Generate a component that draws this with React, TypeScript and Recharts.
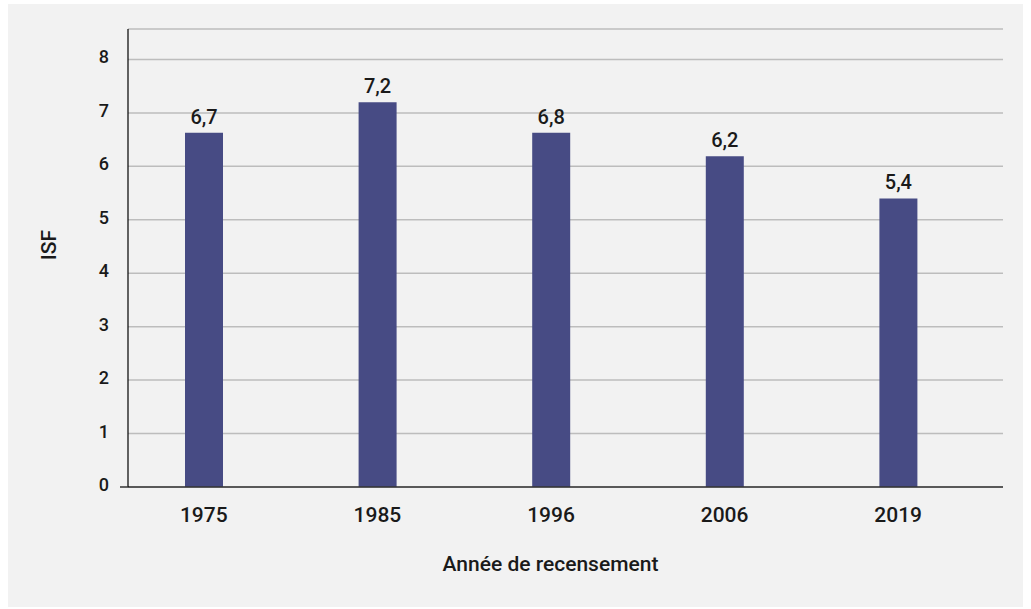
import React from 'react';
import { BarChart, Bar, XAxis, YAxis, CartesianGrid, LabelList, Label } from 'recharts';

const years = ['1975', '1985', '1996', '2006', '2019'];
const isfBarValues = [6.63, 7.2, 6.63, 6.19, 5.4];
const isfLabels = ['6,7', '7,2', '6,8', '6,2', '5,4'];
const yTicks = [0, 1, 2, 3, 4, 5, 6, 7, 8];
const yMax = 8.57;

const data = years.map((y, i) => ({ year: y, value: isfBarValues[i], label: isfLabels[i] }));

const FONT = 'Roboto, "Noto Sans", sans-serif';
const TEXT = '#1a1a1a';
const BAR = '#474b84';

const Y_MARGIN = 19;

const YTick = (props: any) => {
  const { x, y, payload } = props;
  return (
    <g>
      <text x={x} y={y} dy={4} textAnchor="end" fontFamily={FONT} fontSize={18} fontWeight={500} fill={TEXT}>
        {payload.value}
      </text>
      {payload.value === 0 && (
        <line x1={x + Y_MARGIN - 8} x2={x + Y_MARGIN} y1={y} y2={y} stroke="#333" strokeWidth={1.5} />
      )}
    </g>
  );
};

const XTitle = (props: any) => {
  const vb = props.viewBox || { x: 0, y: 0, width: 0, height: 0 };
  return (
    <text
      x={vb.x + vb.width / 2 - 15}
      y={vb.y + vb.height - 38}
      textAnchor="middle"
      fontFamily={FONT}
      fontSize={21}
      fontWeight={500}
      fill={TEXT}
    >
      Année de recensement
    </text>
  );
};

const YTitle = (props: any) => {
  const vb = props.viewBox || { x: 0, y: 0, width: 0, height: 0 };
  const cx = vb.x + 56;
  const cy = vb.y + vb.height / 2 - 13;
  return (
    <text
      x={cx}
      y={cy}
      transform={`rotate(-90 ${cx} ${cy})`}
      textAnchor="middle"
      fontFamily={FONT}
      fontSize={21}
      fontWeight={500}
      fill={TEXT}
    >
      ISF
    </text>
  );
};

export default function App() {
  return (
    <div style={{ position: 'absolute', left: 0, top: 0, width: 1031, height: 609, background: '#fff', overflow: 'hidden' }}>
      <div style={{ position: 'absolute', left: 8, top: 4, width: 1015, height: 603, background: '#f2f2f2' }} />
      <div style={{ position: 'absolute', left: 0, top: 0 }}>
        <BarChart width={1031} height={609} data={data} margin={{ top: 29, right: 28, left: 0, bottom: 0 }}>
          <CartesianGrid vertical={false} stroke="#bdbdbd" strokeWidth={1.5} />
          <XAxis
            dataKey="year"
            height={122}
            padding={{ left: -11, right: 18 }}
            tickLine={false}
            tickSize={0}
            tickMargin={20}
            axisLine={{ stroke: '#333', strokeWidth: 1.5 }}
            tick={{ fontFamily: FONT, fontSize: 21, fontWeight: 500, fill: TEXT }}
          >
            <Label content={<XTitle />} />
          </XAxis>
          <YAxis
            width={128}
            domain={[0, yMax]}
            ticks={yTicks}
            allowDataOverflow
            tickLine={false}
            tickSize={0}
            tickMargin={Y_MARGIN}
            axisLine={{ stroke: '#000', strokeWidth: 1.2 }}
            tick={<YTick />}
          >
            <Label content={<YTitle />} />
          </YAxis>
          <Bar dataKey="value" fill={BAR} barSize={38} isAnimationActive={false}>
            <LabelList
              dataKey="label"
              position="top"
              offset={9}
              fontFamily={FONT}
              fontSize={20}
              fontWeight={500}
              fill={TEXT}
            />
          </Bar>
        </BarChart>
      </div>
    </div>
  );
}
